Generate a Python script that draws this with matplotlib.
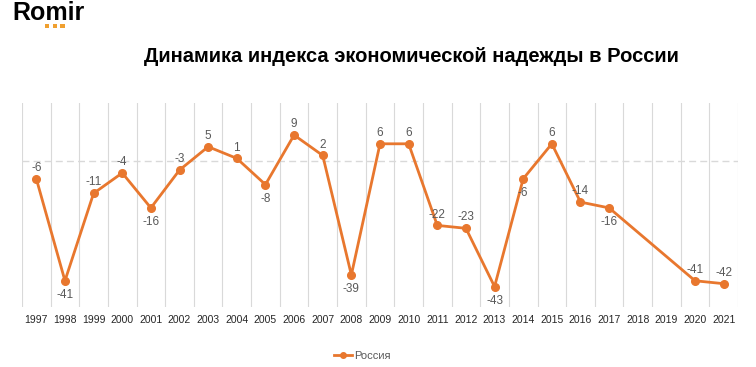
import numpy as np
import matplotlib.pyplot as plt
from matplotlib.lines import Line2D
from matplotlib.patches import Rectangle

years = [str(y) for y in range(1997, 2022)]
index_values = [-6, -41, -11, -4, -16, -3, 5, 1, -8, 9, 2, -39, 6, 6,
                -22, -23, -43, -6, 6, -14, -16, np.nan, np.nan, -41, -42]
# labels drawn under the point
below = ['1998', '2001', '2005', '2008', '2013', '2014', '2017']

title = 'Динамика индекса экономической надежды в России'
series_name = 'Россия'

orange = '#E8772E'
sans = ['Liberation Sans', 'DejaVu Sans']

fig = plt.figure(figsize=(7.56, 3.67), dpi=100)
ax = fig.add_axes([22 / 756, 1 - 307 / 367, 716 / 756, 204 / 367])

x = np.arange(len(years))
vals = np.array(index_values, dtype=float)
ok = ~np.isnan(vals)
ax.plot(x[ok], vals[ok], color=orange, lw=2, marker='o', ms=5.5, zorder=3)

for i, v in enumerate(index_values):
    if np.isnan(v):
        continue
    if years[i] in below:
        ax.annotate(f'{v:g}', (i, v), xytext=(0, -6), textcoords='offset points',
                    ha='center', va='top', fontsize=8.5, color='#595959', family=sans)
    else:
        ax.annotate(f'{v:g}', (i, v), xytext=(0, 3.5), textcoords='offset points',
                    ha='center', va='bottom', fontsize=8.5, color='#595959', family=sans)

ax.set_xlim(-0.5, len(years) - 0.5)
ax.set_ylim(-50, 20)
ax.set_xticks(x)
ax.set_xticklabels(years, fontsize=7.5, family=sans, color='#262626')
ax.tick_params(axis='x', length=0, pad=6)
ax.set_yticks([])
for b in np.arange(-0.5, len(years), 1):
    ax.axvline(b, color='#D9D9D9', lw=0.8, zorder=1)
ax.axhline(0, color='#D9D9D9', lw=1, ls=(0, (5, 3)), zorder=1)
for s in ax.spines.values():
    s.set_visible(False)

fig.text(411 / 756, 1 - 57 / 367, title, ha='center', va='center',
         fontsize=14.5, fontweight='bold', family=sans)

# logo
fig.text(12 / 756, 1 - 13 / 367, 'Romir', ha='left', va='center', fontsize=18,
         fontweight='bold', family=sans)
for k in range(3):
    fig.add_artist(Rectangle(((45 + k * 7.5) / 756, 1 - 28 / 367), 4.5 / 756, 4 / 367,
                             transform=fig.transFigure, color='#F0A030', lw=0))

handle = Line2D([], [], color=orange, lw=2, marker='o', ms=4)
fig.legend([handle], [series_name], loc='center', bbox_to_anchor=(362 / 756, 1 - 356 / 367),
           frameon=False, handlelength=1.6, handletextpad=0.2,
           prop={'family': sans, 'size': 8}, labelcolor='#595959')

fig.savefig('out.png', dpi=100)
